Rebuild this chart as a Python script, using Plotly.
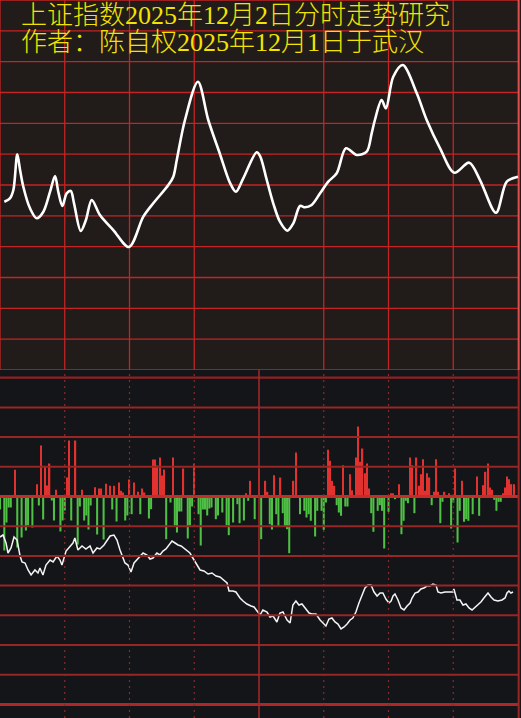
import plotly.graph_objects as go

# ---------------- data ----------------
title_lines = ["上证指数2025年12月2日分时走势研究", "作者：陈自权2025年12月1日于武汉"]

# intraday index line (minute, index level)
price_min = [2.0, 4.6, 6.2, 8.0, 9.3, 10.8, 13.9, 17.0, 20.1, 23.2, 25.5, 27.0, 28.9, 30.9, 32.8, 34.3,
             37.4, 39.8, 42.5, 46.3, 52.5, 59.8, 66.4, 71.0, 78.0, 80.3, 81.9, 85.7, 91.7, 96.5, 101.9,
             106.6, 109.3, 112.7, 118.9, 120.5, 123.6, 126.6, 129.7, 133.1, 135.9, 139.0, 141.3, 144.4,
             148.3, 152.1, 156.0, 160.3, 165.3, 169.9, 172.2, 173.7, 176.8, 178.8, 182.2, 186.6, 193.1,
             197.7, 203.9, 210.5, 217.4, 222.4, 229.8, 234.8, 240.0]
price_val = [3911.29, 3911.84, 3913.19, 3918.98, 3916.43, 3913.72, 3910.22, 3908.60, 3909.67, 3912.91,
             3915.46, 3912.91, 3910.60, 3912.65, 3913.03, 3911.03, 3906.54, 3908.32, 3911.57, 3909.14,
             3906.70, 3903.95, 3908.86, 3911.03, 3914.00, 3915.35, 3918.05, 3924.54, 3930.75, 3924.54,
             3919.03, 3914.30, 3912.91, 3915.09, 3919.30, 3918.70, 3914.81, 3911.03, 3908.05, 3906.59,
             3907.79, 3910.60, 3910.38, 3910.76, 3912.65, 3914.54, 3915.90, 3919.95, 3918.87, 3919.40,
             3922.38, 3924.54, 3927.78, 3926.44, 3931.56, 3933.46, 3928.87, 3924.54, 3919.95, 3916.00,
             3917.62, 3914.81, 3909.51, 3914.54, 3915.35]

# net flow bars: buy (red, up) / sell (green, down)
buy_min = [7, 17, 19, 21, 22, 23, 26, 31, 32, 35, 38, 44, 46, 47, 49, 51, 53, 55, 56, 57, 60, 62, 64, 66, 67,
           71, 72, 73, 74, 75, 76, 80, 85, 90, 114, 116, 120, 123, 124, 127, 130, 136, 137, 152, 153, 154,
           155, 159, 162, 163, 165, 166, 167, 168, 169, 170, 171, 181, 182, 185, 190, 191, 193, 194, 195,
           196, 197, 198, 199, 201, 202, 203, 206, 208, 211, 214, 221, 224, 225, 226, 227, 228, 233, 234,
           235, 236, 237, 238]
buy_val = [26.7, 12.3, 51, 30, 11, 33, 6.7, 19, 56, 56, 6.7, 9.3, 8, 8, 12.7, 10.7, 10.7, 14, 5.7, 4, 17, 14,
           4.7, 8, 4, 37, 37, 31, 39, 21, 27, 39, 28, 33, 3.3, 15.7, 28, 15.7, 4.7, 21.3, 19, 15.7, 44, 46.7,
           35.7, 15.7, 10.7, 31.3, 22.3, 6.3, 39, 70, 34.7, 48, 23.3, 33, 8, 3.3, 3.3, 12.3, 39, 31.3, 39,
           10.7, 22.3, 37.3, 5.7, 23.3, 19, 4.7, 37.3, 4.7, 4.7, 3.3, 28, 15.7, 20, 11.3, 24.7, 33, 9, 6.7,
           3.3, 9, 20, 17.3, 12.3, 12.3]
sell_min = [0, 2, 3, 4, 5, 8, 10, 12, 13, 15, 18, 20, 24, 25, 28, 29, 30, 33, 36, 37, 39, 40, 41, 42, 45, 48,
            52, 54, 58, 59, 61, 65, 69, 70, 77, 79, 81, 82, 83, 84, 87, 88, 89, 92, 93, 94, 95, 96, 97, 98,
            100, 101, 103, 105, 106, 108, 110, 111, 113, 115, 118, 121, 125, 126, 128, 129, 131, 132, 133,
            134, 139, 141, 142, 143, 144, 146, 147, 149, 150, 151, 156, 157, 158, 160, 161, 172, 173, 175,
            176, 177, 178, 180, 183, 186, 187, 188, 189, 192, 200, 204, 205, 209, 210, 212, 213, 215, 216,
            217, 219, 222, 229, 230, 231, 232]
sell_val = [-13, -54, -26, -11, -11, -51, -41, -34, -29, -31, -9, -23, -4, -24, -35, -24, -14, -24, -48, -10,
            -24, -19, -33, -9, -38, -43, -13, -25, -24, -19, -17.7, -17.7, -22, -12.7, -42.7, -6, -29, -36,
            -15, -15, -42, -29, -10, -17.7, -49, -13, -13, -19, -12, -11, -22.7, -19, -16, -28.7, -38.7, -26,
            -7.7, -26.7, -24, -4.3, -22.7, -42.7, -27.7, -33, -17.7, -30, -16.7, -30, -32.7, -56.7, -17.7,
            -14.3, -21, -17.7, -24.3, -40, -14.3, -14.3, -33.3, -6, -8.7, -16, -19.3, -10, -10, -16.7, -35.3,
            -14.3, -8.7, -14.3, -52, -15.3, -2.7, -37.7, -24.3, -4.3, -6.7, -16.7, -8.7, -26.7, -5.3, -32,
            -6, -46, -14.3, -25.3, -22.7, -24.3, -17.7, -19.3, -3.3, -14.3, -5.3, -5.3]

# cumulative flow line (minute, value)
cum_points = [(0, 3), (1.4, 5), (2.8, -3), (3.7, -13), (5.1, -8), (6.5, 3), (7.9, 0), (9.3, -16), (10.2, -22),
              (11.6, -23), (13.0, -30), (14.4, -35), (16.2, -30), (17.6, -33), (18.5, -28), (19.9, -35),
              (21.3, -25), (23.2, -20), (24.6, -22), (26.4, -16), (27.8, -20), (28.7, -25), (30.6, -11),
              (32.4, -7), (33.8, -3), (34.7, 2), (36.1, -10), (38.0, -6), (39.8, -9), (41.7, -6), (43.1, -13),
              (44.9, -8), (46.3, -9), (48.2, -5), (49.6, 0), (51.0, 4), (52.8, 5), (54.2, 0), (55.6, -10),
              (56.5, -15), (57.9, -23), (59.3, -25), (60.7, -32), (62.1, -23), (63.5, -20), (64.9, -16),
              (66.3, -13), (68.1, -15), (69.5, -19), (70.9, -18), (72.7, -13), (74.1, -15), (75.5, -11),
              (76.9, -9), (78.3, -5), (79.7, -1), (81.1, -3), (82.5, -5), (83.9, -6), (85.2, -8), (86.6, -11),
              (88.0, -13), (89.9, -20), (91.3, -25), (92.7, -30), (94.5, -31), (96.4, -34), (98.2, -33),
              (100.1, -36), (101.9, -37), (103.8, -40), (105.2, -43), (106.1, -51), (107.9, -51), (109.3, -52),
              (111.2, -58), (112.6, -61), (114.4, -64), (116.3, -66), (117.7, -67), (119.1, -71), (120.5, -75),
              (121.8, -70), (123.7, -72), (125.1, -77), (126.5, -76), (128.3, -82), (129.7, -73), (131.1, -72),
              (133.0, -80), (134.4, -83), (135.7, -65), (137.1, -61), (138.5, -65), (139.9, -64), (141.8, -69),
              (143.2, -73), (144.5, -74), (146.4, -74), (148.3, -80), (149.6, -83), (151.0, -86), (152.4, -79),
              (153.8, -78), (155.2, -82), (156.6, -84), (158.0, -89), (159.4, -87), (160.8, -84), (162.2, -80),
              (163.5, -78), (164.9, -72), (166.3, -63), (167.7, -56), (169.1, -48), (170.5, -45), (171.9, -45),
              (173.3, -52), (174.7, -56), (176.1, -53), (177.4, -53), (178.8, -59), (180.2, -63), (181.2, -61),
              (182.1, -56), (183.0, -54), (184.4, -60), (185.8, -68), (187.2, -70), (188.6, -66), (190.0, -63),
              (190.9, -58), (192.3, -53), (193.7, -52), (195.0, -49), (196.4, -48), (197.8, -46), (199.2, -46),
              (200.6, -44), (202.0, -45), (202.9, -52), (204.3, -53), (206.2, -52), (208.0, -52), (209.9, -52),
              (210.3, -49), (211.7, -60), (213.1, -60), (214.5, -65), (215.9, -64), (217.3, -68), (218.7, -70),
              (220.1, -67), (221.5, -65), (222.8, -62), (224.2, -58), (226.1, -53), (227.5, -57), (228.9, -60),
              (230.7, -61), (232.6, -60), (234.0, -58), (234.9, -53), (235.8, -51), (236.7, -53), (237.7, -52)]
cum_min = [p[0] for p in cum_points]
cum_val = [p[1] for p in cum_points]

# ---------------- layout constants ----------------
W, H = 521, 718
SPLIT_PX = 370
Y_SPLIT = 1 - SPLIT_PX / H
X_RANGE = [0, 240 * W / 518]
TOP_RANGE = [3884, 3944]
BOT_ZERO_PX = 496.5
BOT_RANGE = [-(H - BOT_ZERO_PX), BOT_ZERO_PX - SPLIT_PX]
CUM_ZERO_PX = 540
CUM_RANGE = [-(H - CUM_ZERO_PX), CUM_ZERO_PX - SPLIT_PX]
BOT_STEP = 29.7

TOP_BG = "#211b19"
BOT_BG = "#141518"
GRID_RED = "#c42424"

fig = go.Figure()

fig.add_trace(go.Scatter(x=price_min, y=price_val, mode="lines",
                         line=dict(color="#ffffff", width=2.6, shape="spline", smoothing=0.9),
                         xaxis="x", yaxis="y", hoverinfo="skip"))
fig.add_trace(go.Bar(x=buy_min, y=buy_val, width=0.6, marker=dict(color="#e2322f", line=dict(width=0)),
                     xaxis="x2", yaxis="y2", hoverinfo="skip"))
fig.add_trace(go.Bar(x=sell_min, y=sell_val, width=0.95, marker=dict(color="#4fbf45", line=dict(width=0)),
                     xaxis="x2", yaxis="y2", hoverinfo="skip"))
fig.add_trace(go.Scatter(x=cum_min, y=cum_val, mode="lines",
                         line=dict(color="#f4f4f4", width=1.5),
                         xaxis="x2", yaxis="y3", hoverinfo="skip"))

shapes = []
# top panel background
shapes.append(dict(type="rect", xref="paper", yref="paper", x0=0, x1=1, y0=Y_SPLIT, y1=1,
                   fillcolor=TOP_BG, line=dict(width=0), layer="below"))
# top panel horizontal grid
for k in range(13):
    yv = TOP_RANGE[0] + 5 * k
    shapes.append(dict(type="line", xref="x", yref="y", x0=0, x1=240, y0=yv, y1=yv,
                       line=dict(color=GRID_RED, width=1.3), layer="below"))
# top panel vertical grid (no line at the midday mark)
for m in [0, 30, 60, 90, 150, 180, 210]:
    shapes.append(dict(type="line", xref="x", yref="y", x0=m, x1=m, y0=TOP_RANGE[0], y1=TOP_RANGE[1],
                       line=dict(color=GRID_RED, width=1.3), layer="below"))
shapes.append(dict(type="line", xref="x", yref="y", x0=240.3, x1=240.3, y0=TOP_RANGE[0], y1=TOP_RANGE[1],
                   line=dict(color="#e05050", width=2), layer="below"))

# bottom panel horizontal grid
for k in range(-7, 5):
    yv = k * BOT_STEP
    if k == 0:
        ln = dict(color="#c52d2a", width=3)
    elif k == -7:
        ln = dict(color="#b02626", width=3)
    elif k == 4:
        ln = dict(color="#8e2222", width=2.2)
    else:
        ln = dict(color="#992525", width=2)
    shapes.append(dict(type="line", xref="x2", yref="y2", x0=0, x1=240, y0=yv, y1=yv, line=ln, layer="above"))
# bottom panel dotted verticals
for m in [30, 60, 90, 150, 180, 210]:
    shapes.append(dict(type="line", xref="x2", yref="y2", x0=m, x1=m, y0=BOT_RANGE[0], y1=BOT_RANGE[1],
                       line=dict(color="#8c2a2a", width=1.2, dash="2px,4px"), layer="above"))
shapes.append(dict(type="line", xref="x2", yref="y2", x0=120, x1=120, y0=BOT_RANGE[0], y1=BOT_RANGE[1],
                   line=dict(color="#a32828", width=1.5), layer="above"))
shapes.append(dict(type="line", xref="x2", yref="y2", x0=240.3, x1=240.3, y0=BOT_RANGE[0], y1=BOT_RANGE[1],
                   line=dict(color="#9a2626", width=2), layer="above"))

annotations = []
for i, txt in enumerate(title_lines):
    annotations.append(dict(text=txt, xref="paper", yref="paper", x=20 / W, y=1 - (16 + 27 * i) / H,
                            xanchor="left", yanchor="middle", showarrow=False, borderpad=0,
                            font=dict(family="Liberation Serif, Noto Sans CJK SC", size=26,
                                      color="#f2e400", weight=300)))

fig.update_layout(
    width=W, height=H, margin=dict(l=0, r=0, t=0, b=0, pad=0),
    paper_bgcolor=BOT_BG, plot_bgcolor="rgba(0,0,0,0)", showlegend=False,
    barmode="overlay",
    xaxis=dict(domain=[0, 1], range=X_RANGE, visible=False, fixedrange=True, anchor="y"),
    yaxis=dict(domain=[Y_SPLIT, 1], range=TOP_RANGE, visible=False, fixedrange=True, anchor="x"),
    xaxis2=dict(domain=[0, 1], range=X_RANGE, visible=False, fixedrange=True, anchor="y2"),
    yaxis2=dict(domain=[0, Y_SPLIT], range=BOT_RANGE, visible=False, fixedrange=True, anchor="x2"),
    yaxis3=dict(domain=[0, Y_SPLIT], range=CUM_RANGE, visible=False, fixedrange=True, anchor="x2",
                overlaying="y2"),
    shapes=shapes, annotations=annotations,
)

fig.write_html("out.html", config={"displayModeBar": False},
               post_script="document.body.style.margin='0';document.body.style.padding='0';"
                           "document.body.style.overflow='hidden';document.body.style.background='"
                           + BOT_BG + "';")
